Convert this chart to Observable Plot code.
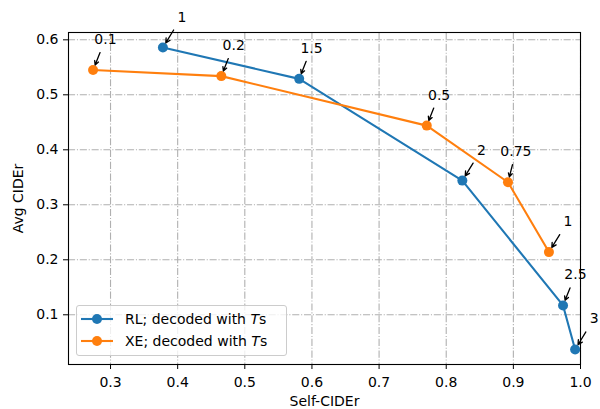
<!DOCTYPE html>
<html><head><meta charset="utf-8">
<script src="https://cdn.jsdelivr.net/npm/d3@7"></script>
<script src="https://cdn.jsdelivr.net/npm/@observablehq/plot@0.6"></script>
<style>
body{margin:0;background:#fff;}
#wrap{position:relative;width:600px;height:409px;font-family:"DejaVu Sans";}
.legend{position:absolute;left:76px;top:305px;width:209px;height:49px;border:1px solid #cccccc;border-radius:3px;background:rgba(255,255,255,0.8);font-size:14px;color:#000;}
.row{position:absolute;left:0;width:209px;height:18px;}
.row svg{position:absolute;left:3px;top:3px;}
.row span{position:absolute;left:48px;top:0;line-height:18px;white-space:nowrap;}
</style></head><body><div id="wrap"></div>
<script>
// ---- data ----
const rlT = ["1", "1.5", "2", "2.5", "3"];
const rlSelfCider = [0.378, 0.581, 0.824, 0.974, 0.992];
const rlAvgCider = [0.586, 0.529, 0.344, 0.117, 0.037];
const xeT = ["0.1", "0.2", "0.5", "0.75", "1"];
const xeSelfCider = [0.274, 0.465, 0.771, 0.892, 0.953];
const xeAvgCider = [0.545, 0.534, 0.444, 0.341, 0.214];
const seriesNames = ["RL", "XE"];
const xTicks = [0.3, 0.4, 0.5, 0.6, 0.7, 0.8, 0.9, 1.0];
const yTicks = [0.1, 0.2, 0.3, 0.4, 0.5, 0.6];
const colors = ["#1f77b4", "#ff7f0e"];

// ---- layout ----
const W = 600, H = 409, mL = 68, mR = 20, mT = 32, mB = 45;
const xDomain = [0.2374, 1.0], yDomain = [0.0096, 0.6133];
const sx = d3.scaleLinear(xDomain, [mL, W - mR]);
const sy = d3.scaleLinear(yDomain, [H - mB, mT]);

const rl = rlT.map((t, i) => ({T: t, x: rlSelfCider[i], y: rlAvgCider[i]}));
const xe = xeT.map((t, i) => ({T: t, x: xeSelfCider[i], y: xeAvgCider[i]}));

function annotations(rows) {
  return rows.map(d => {
    const px = sx(d.x), py = sy(d.y);
    const w = [...d.T].reduce((s, c) => s + (c === "." ? 4.45 : 8.9), 0);
    const cx = px + 23.5 - w / 2, cy = py - 31;
    const ddx = px - cx, ddy = py - cy, L = Math.hypot(ddx, ddy);
    const t0 = 13.5 / ddy;
    return {
      ...d,
      x1: sx.invert(cx + t0 * ddx), y1: sy.invert(cy + t0 * ddy),
      x2: sx.invert(px - 5.5 * ddx / L), y2: sy.invert(py - 5.5 * ddy / L)
    };
  });
}
const ann = [...annotations(rl), ...annotations(xe)];

const grid = {stroke: "#b0b0b0", strokeOpacity: 1, strokeWidth: 1.1, strokeDasharray: "7.1,1.8,1.1,1.8"};

const plot = Plot.plot({
  width: W, height: H,
  marginLeft: mL, marginRight: mR, marginTop: mT, marginBottom: mB,
  style: {fontFamily: "DejaVu Sans", fontSize: "14px", background: "white", color: "black"},
  x: {domain: xDomain},
  y: {domain: yDomain},
  marks: [
    Plot.gridX(xTicks, grid),
    Plot.gridY(yTicks, grid),
    Plot.axisX(xTicks, {tickFormat: d3.format(".1f"), tickSize: 5, tickPadding: 8, fontSize: 14,
      label: "Self-CIDEr", labelAnchor: "center", labelArrow: "none", labelOffset: 41}),
    Plot.axisY(yTicks, {tickFormat: d3.format(".1f"), tickSize: 5, tickPadding: 5, fontSize: 14,
      label: "Avg CIDEr", labelAnchor: "center", labelArrow: "none", labelOffset: 55}),
    Plot.frame({stroke: "black", strokeWidth: 1.1}),
    Plot.line(rl, {x: "x", y: "y", stroke: colors[0], strokeWidth: 2.1}),
    Plot.dot(rl, {x: "x", y: "y", r: 5, fill: colors[0]}),
    Plot.line(xe, {x: "x", y: "y", stroke: colors[1], strokeWidth: 2.1}),
    Plot.dot(xe, {x: "x", y: "y", r: 5, fill: colors[1]}),
    Plot.arrow(ann, {x1: "x1", y1: "y1", x2: "x2", y2: "y2", stroke: "black", strokeWidth: 1.3, headAngle: 55, headLength: 8}),
    Plot.text(ann, {x: "x", y: "y", text: "T", dx: 23.5, dy: -26, textAnchor: "end", lineAnchor: "bottom", fontSize: 14, fill: "black"})
  ]
});

const wrap = document.getElementById("wrap");
wrap.appendChild(plot);

const legend = document.createElement("div");
legend.className = "legend";
seriesNames.forEach((name, i) => {
  const row = document.createElement("div");
  row.className = "row";
  row.style.top = (4 + i * 22.4) + "px";
  row.innerHTML = `<svg width="34" height="12"><line x1="1" y1="6" x2="33" y2="6" stroke="${colors[i]}" stroke-width="2.1"/><circle cx="17" cy="6" r="5" fill="${colors[i]}"/></svg><span>${name}; decoded with <i>T</i>s</span>`;
  legend.appendChild(row);
});
wrap.appendChild(legend);
</script>
</body></html>
